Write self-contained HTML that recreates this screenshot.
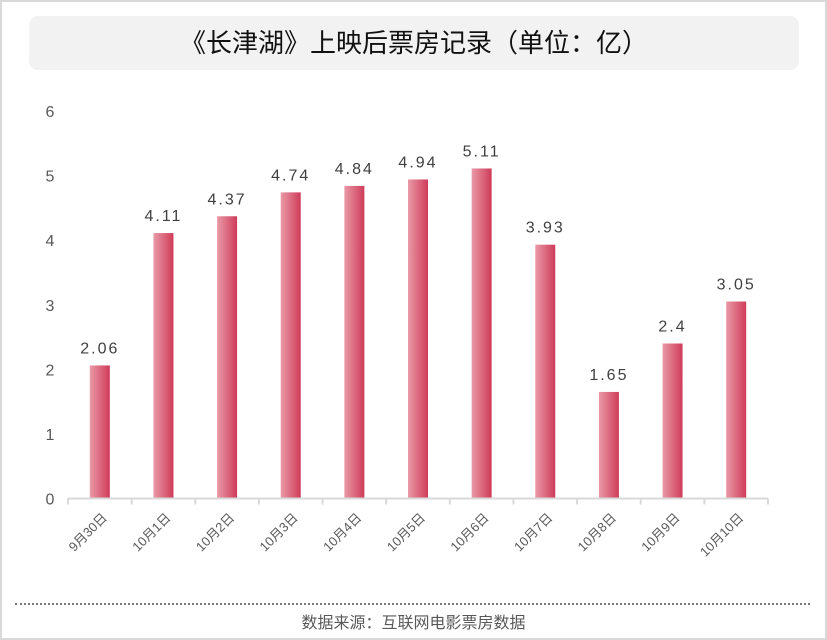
<!DOCTYPE html>
<html><head><meta charset="utf-8"><style>
html,body{margin:0;padding:0;background:#fff;}
#wrap{position:relative;width:823px;height:636px;border:2px solid #d9d9d9;overflow:hidden;font-family:"Liberation Sans","Noto Sans CJK SC",sans-serif;}
#title{position:absolute;left:27px;top:14px;width:770px;height:54px;background:#f2f2f2;border-radius:9px;text-align:center;line-height:54px;font-size:26px;color:#111;}
#dots{position:absolute;left:13px;top:601px;width:795px;border-top:2px dotted #777;}
#src{position:absolute;left:0;width:823px;top:607px;text-align:center;font-size:16px;color:#595959;}
svg{position:absolute;left:-2px;top:-2px;}
</style></head><body>
<div id="wrap">
<div id="title">《长津湖》上映后票房记录（单位：亿）</div>
<svg id="chart" width="827" height="640">
<defs><linearGradient id="g" x1="0" x2="1" y1="0" y2="0"><stop offset="0" stop-color="#e99aa7"/><stop offset="1" stop-color="#cf3b59"/></linearGradient></defs>
</svg>
<div id="dots"></div>
<div id="src">数据来源：互联网电影票房数据</div>
</div>
<script>
const categories=["9月30日","10月1日","10月2日","10月3日","10月4日","10月5日","10月6日","10月7日","10月8日","10月9日","10月10日"];
const values=[2.06,4.11,4.37,4.74,4.84,4.94,5.11,3.93,1.65,2.4,3.05];
const valueLabels=["2.06","4.11","4.37","4.74","4.84","4.94","5.11","3.93","1.65","2.4","3.05"];
const yTicks=[0,1,2,3,4,5,6];
const svg=document.getElementById('chart');
const NS='http://www.w3.org/2000/svg';
const x0=68,x1=768,yBase=498.5,yTop=111,yMax=6;
const band=(x1-x0)/categories.length;
const y=v=>yBase-(yBase-yTop)*v/yMax;
const xc=i=>x0+band*(i+0.5);
function mk(t,a){const e=document.createElementNS(NS,t);for(const k in a)e.setAttribute(k,a[k]);svg.appendChild(e);return e;}
yTicks.forEach(t=>{const e=mk('text',{x:50,y:y(t)+6,'text-anchor':'middle','font-size':16,fill:'#595959'});e.textContent=t;

});
const ax=mk('line',{x1:x0,x2:x1,y1:yBase,y2:yBase,stroke:'#d9d9d9','stroke-width':2});


for(let i=0;i<=categories.length;i++){const t=mk('line',{x1:x0+band*i,x2:x0+band*i,y1:yBase,y2:yBase+6,stroke:'#d9d9d9','stroke-width':2});

}
categories.forEach((c,i)=>{
const cx=xc(i),w=20;
const r=mk('rect',{x:cx-w/2,y:y(values[i]),width:w,height:yBase-1-y(values[i]),fill:'url(#g)'});


const l=mk('text',{x:cx,y:y(values[i])-12,'text-anchor':'middle','font-size':16,fill:'#404040','letter-spacing':'2'});l.textContent=valueLabels[i];


const tx=cx+8,ty=yBase+20;
const cl=mk('text',{x:tx,y:ty,'text-anchor':'end','font-size':13,fill:'#595959',transform:`rotate(-45 ${tx} ${ty})`});cl.textContent=c;


});
</script>
</body></html>
